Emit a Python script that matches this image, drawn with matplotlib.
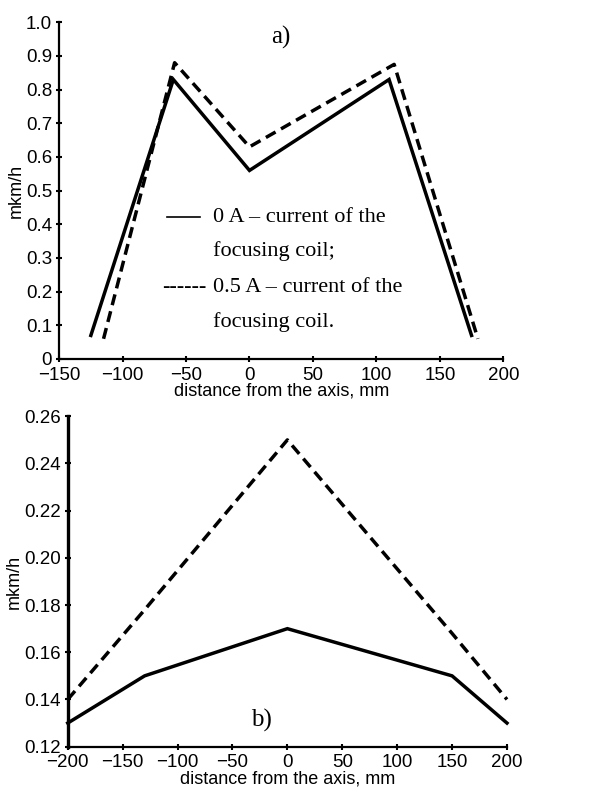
import matplotlib.pyplot as plt
from matplotlib.lines import Line2D

# a) deposition rate across the chamber, two coil currents
x_a_0 = [-125, -60, 0, 110, 175]
y_a_0 = [0.07, 0.83, 0.56, 0.83, 0.07]
x_a_05 = [-115, -59, 0, 114, 180]
y_a_05 = [0.06, 0.88, 0.63, 0.875, 0.06]

# b) second profile
x_b = [-200, -130, 0, 150, 200]
y_b_0 = [0.13, 0.15, 0.17, 0.15, 0.13]
y_b_05 = [0.14, 0.178, 0.25, 0.168, 0.14]

yticks_a = [0, 0.1, 0.2, 0.3, 0.4, 0.5, 0.6, 0.7, 0.8, 0.9, 1.0]
ylabels_a = ['0', '0.1', '0.2', '0.3', '0.4', '0.5', '0.6', '0.7', '0.8', '0.9', '1.0']
xticks_a = [-150, -100, -50, 0, 50, 100, 150, 200]
yticks_b = [0.12, 0.14, 0.16, 0.18, 0.20, 0.22, 0.24, 0.26]
ylabels_b = ['0.12', '0.14', '0.16', '0.18', '0.20', '0.22', '0.24', '0.26']
xticks_b = [-200, -150, -100, -50, 0, 50, 100, 150, 200]

plt.rcParams['font.family'] = ['Liberation Sans', 'DejaVu Sans']
serif = ['Liberation Serif', 'DejaVu Serif']
dash = (0, (3.2, 1.8))
lw = 2.5

fig = plt.figure(figsize=(6.16, 7.96), dpi=100)
ax1 = fig.add_axes([0.096, 0.549, 0.721, 0.423])
ax2 = fig.add_axes([0.110, 0.062, 0.713, 0.415])

ax1.plot(x_a_0, y_a_0, color='black', lw=lw, solid_joinstyle='miter')
ax1.plot(x_a_05, y_a_05, color='black', lw=lw, linestyle=dash)
ax1.set_xlim(-150, 200)
ax1.set_ylim(0, 1.0)
ax1.set_xticks(xticks_a)
ax1.set_yticks(yticks_a)
ax1.set_yticklabels(ylabels_a)

ax2.plot(x_b, y_b_0, color='black', lw=lw, solid_joinstyle='miter', clip_on=False)
ax2.plot(x_b, y_b_05, color='black', lw=lw, linestyle=dash, clip_on=False)
ax2.set_xlim(-200, 200)
ax2.set_ylim(0.12, 0.26)
ax2.set_xticks(xticks_b)
ax2.set_yticks(yticks_b)
ax2.set_yticklabels(ylabels_b)

for ax in (ax1, ax2):
    for s in ('top', 'right'):
        ax.spines[s].set_visible(False)
    for s in ('left', 'bottom'):
        ax.spines[s].set_linewidth(1.6)
    ax.tick_params(direction='inout', length=4, width=1.5, labelsize=13.5)
    ax.tick_params(axis='x', pad=3.5)
    ax.tick_params(axis='y', pad=3)
    ax.set_ylabel('mkm/h', fontsize=13, labelpad=1)
    ax.set_xlabel('distance from the axis, mm', fontsize=13, labelpad=-0.5)
ax2.spines['left'].set_linewidth(2.4)

ax1.text(0.5, 0.955, 'a)', transform=ax1.transAxes, ha='center', va='center',
         fontsize=18, family=serif)
ax2.text(0.44, 0.08, 'b)', transform=ax2.transAxes, ha='center', va='center',
         fontsize=18, family=serif)

# legend written as text lines
lx = 213 / 616
rows = [217, 251, 287, 322]
texts = ['0 A \u2013 current of the', 'focusing coil;',
         '0.5 A \u2013 current of the', 'focusing coil.']
for yy, t in zip(rows, texts):
    fig.text(lx, 1 - yy / 796, t, ha='left', va='center', fontsize=16, family=serif)
fig.add_artist(Line2D([167 / 616, 200 / 616], [1 - 217 / 796, 1 - 217 / 796],
                      color='black', lw=1.2, transform=fig.transFigure))
fig.text(162 / 616, 1 - 287 / 796, '------', ha='left', va='center',
         fontsize=16, family=serif)

fig.savefig('out.png', dpi=100)
